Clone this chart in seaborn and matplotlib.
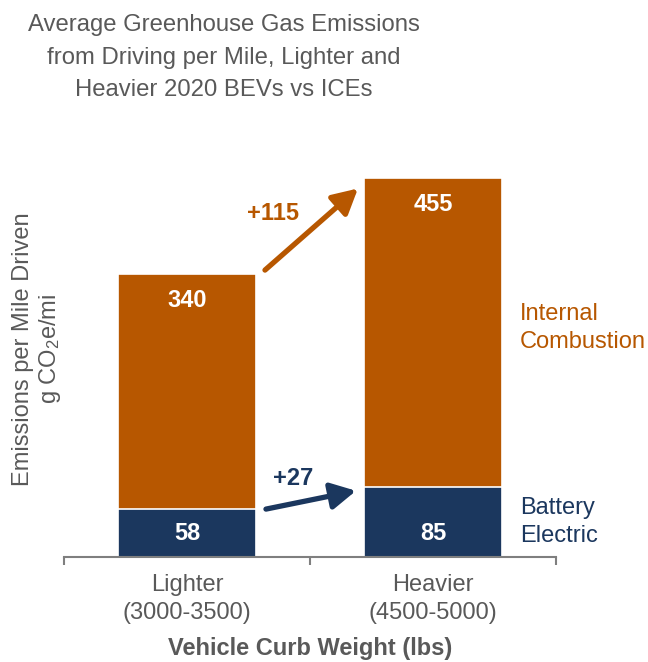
import matplotlib
matplotlib.use("Agg")
import matplotlib.pyplot as plt
import seaborn as sns
import pandas as pd

# Emissions per mile driven (g CO2e/mi) by vehicle curb weight class
categories = ["Lighter\n(3000-3500)", "Heavier\n(4500-5000)"]
ice_values = [340, 455]
bev_values = [58, 85]
ice_change = "+115"
bev_change = "+27"

ORANGE = "#B75700"
NAVY = "#1B375E"
GRAY = "#595959"

sns.set_theme(style="white")
plt.rcParams["font.family"] = ["Liberation Sans", "DejaVu Sans"]
plt.rcParams["mathtext.default"] = "regular"

df = pd.DataFrame({"category": categories, "ice": ice_values, "bev": bev_values})

fig = plt.figure(figsize=(6.48, 6.62), dpi=100)
ax = fig.add_axes([64 / 648, 0.158, 492 / 648, 0.629])

# ICE bars drawn from zero, BEV bars overlaid in front
sns.barplot(data=df, x="category", y="ice", color=ORANGE, width=0.56,
            edgecolor="white", linewidth=1.2, saturation=1, ax=ax)
sns.barplot(data=df, x="category", y="bev", color=NAVY, width=0.56,
            edgecolor="white", linewidth=1.2, saturation=1, ax=ax)

ax.set_xlim(-0.5, 1.5)
ax.set_ylim(0, 500)

# value labels inside the bars
for i, v in enumerate(ice_values):
    ax.text(i, v - 31, f"{v}", ha="center", va="center", color="white",
            fontsize=17, fontweight="bold")
for i, v in enumerate(bev_values):
    ax.text(i, 29, f"{v}", ha="center", va="center", color="white",
            fontsize=17, fontweight="bold")

# change arrows between the two weight classes
ax.annotate("", xy=(0.695, 443), xytext=(0.317, 345),
            arrowprops=dict(arrowstyle="-|>,head_length=0.75,head_width=0.4",
                            mutation_scale=20, lw=3.8, color=ORANGE,
                            shrinkA=0, shrinkB=0))
ax.annotate("", xy=(0.687, 80), xytext=(0.321, 58),
            arrowprops=dict(arrowstyle="-|>,head_length=0.75,head_width=0.4",
                            mutation_scale=20, lw=3.8, color=NAVY,
                            shrinkA=0, shrinkB=0))
ax.text(0.35, 413, ice_change, ha="center", va="center", color=ORANGE,
        fontsize=17, fontweight="bold")
ax.text(0.431, 95, bev_change, ha="center", va="center", color=NAVY,
        fontsize=17, fontweight="bold")

# series labels at the right
ax.text(1.354, 276, "Internal\nCombustion", ha="left", va="center",
        color=ORANGE, fontsize=17, linespacing=1.35)
ax.text(1.354, 42, "Battery\nElectric", ha="left", va="center",
        color=NAVY, fontsize=17, linespacing=1.35)

# axes styling
for side in ["left", "right", "top"]:
    ax.spines[side].set_visible(False)
ax.spines["bottom"].set_color("#7F7F7F")
ax.spines["bottom"].set_linewidth(1.5)
ax.set_yticks([])
ax.set_xticks([-0.5, 0.5, 1.5], minor=True)
ax.tick_params(axis="x", which="major", length=0, pad=12, labelsize=17,
               labelcolor=GRAY)
ax.tick_params(axis="x", which="minor", length=6, width=1.5, color="#7F7F7F",
               direction="out", bottom=True)
for lbl in ax.get_xticklabels():
    lbl.set_linespacing(1.35)
ax.set_xlabel("Vehicle Curb Weight (lbs)", fontsize=17, fontweight="bold",
              color=GRAY, labelpad=9)
ax.set_ylabel("Emissions per Mile Driven\ng CO$_2$e/mi", fontsize=17,
              color=GRAY, labelpad=1, linespacing=1.15)

fig.text(224 / 648, 1 - 14 / 662,
         "Average Greenhouse Gas Emissions\nfrom Driving per Mile, Lighter and\nHeavier 2020 BEVs vs ICEs",
         ha="center", va="top", color=GRAY, fontsize=17.2, linespacing=1.62)

fig.savefig("out.png", dpi=100)
